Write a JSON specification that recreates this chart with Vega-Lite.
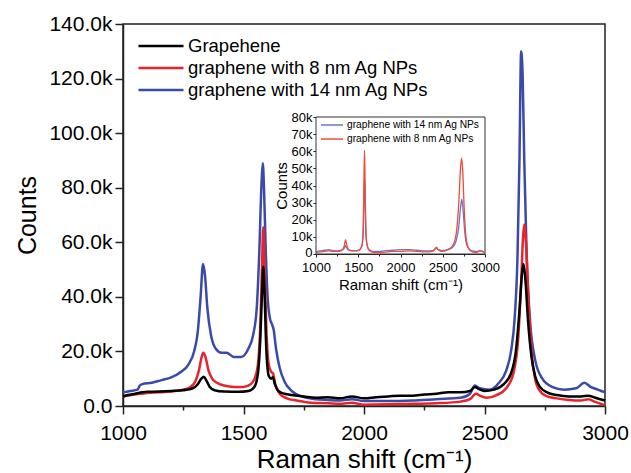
{
  "$schema": "https://vega.github.io/schema/vega-lite/v6.json",
  "width": 482,
  "height": 382,
  "autosize": {"type": "none"},
  "padding": {"left": 123, "top": 24, "right": 26, "bottom": 67},
  "background": "white",
  "config": {
    "font": "Liberation Sans",
    "view": {"stroke": "#222222", "strokeWidth": 1.5},
    "axis": {"domainColor": "#222222", "tickColor": "#222222", "labelColor": "black", "titleColor": "black", "grid": false, "labelFont": "Liberation Sans", "titleFont": "Liberation Sans", "titleFontWeight": "normal", "domainWidth": 1.5, "tickWidth": 1.5},
    "legend": {"labelFont": "Liberation Sans", "labelColor": "black", "labelLimit": 0}
  },
  "resolve": {"scale": {"x": "independent", "y": "independent", "color": "independent"}},
  "layer": [
    {
      "layer": [
        {
          "data": {"values": [
            {"x":1000,"y":5000},{"x":1030,"y":5500},{"x":1060,"y":6000},{"x":1070,"y":7500},{"x":1080,"y":8000},{"x":1120,"y":8500},{"x":1160,"y":9500},{"x":1200,"y":10500},{"x":1240,"y":12500},{"x":1270,"y":15000},{"x":1295,"y":20000},{"x":1310,"y":27000},{"x":1322,"y":40000},{"x":1332,"y":52000},{"x":1340,"y":48000},{"x":1350,"y":36000},{"x":1365,"y":26000},{"x":1385,"y":21000},{"x":1410,"y":19500},{"x":1430,"y":19500},{"x":1460,"y":18000},{"x":1490,"y":18000},{"x":1520,"y":21000},{"x":1540,"y":26000},{"x":1555,"y":36000},{"x":1565,"y":55000},{"x":1575,"y":82000},{"x":1580,"y":89000},{"x":1585,"y":80000},{"x":1592,"y":58000},{"x":1600,"y":40000},{"x":1610,"y":32000},{"x":1618,"y":30000},{"x":1625,"y":28000},{"x":1635,"y":21000},{"x":1650,"y":14000},{"x":1670,"y":9000},{"x":1700,"y":5500},{"x":1740,"y":3500},{"x":1800,"y":2500},{"x":1850,"y":2200},{"x":1900,"y":2000},{"x":1950,"y":2500},{"x":2000,"y":1800},{"x":2100,"y":1800},{"x":2200,"y":2000},{"x":2300,"y":2500},{"x":2400,"y":3000},{"x":2440,"y":4500},{"x":2460,"y":7500},{"x":2480,"y":6500},{"x":2520,"y":6000},{"x":2560,"y":8500},{"x":2590,"y":13000},{"x":2610,"y":20000},{"x":2625,"y":32000},{"x":2637,"y":55000},{"x":2645,"y":90000},{"x":2652,"y":130000},{"x":2658,"y":122000},{"x":2665,"y":90000},{"x":2675,"y":55000},{"x":2690,"y":30000},{"x":2710,"y":17000},{"x":2740,"y":10000},{"x":2780,"y":7000},{"x":2830,"y":6000},{"x":2880,"y":6500},{"x":2915,"y":8500},{"x":2940,"y":7000},{"x":2970,"y":6000},{"x":3000,"y":5000}
          ]},
          "mark": {"type": "line", "strokeWidth": 2.5, "interpolate": "monotone"},
          "encoding": {
            "x": {"field": "x", "type": "quantitative", "scale": {"domain": [1000, 3000], "nice": false, "zero": false},
              "axis": {"title": "Raman shift (cm⁻¹)", "values": [1000,1250,1500,1750,2000,2250,2500,2750,3000], "labelExpr": "datum.value % 500 === 0 ? format(datum.value, 'd') : ''", "tickSize": {"condition": {"test": "datum.value % 500 === 0", "value": 8}, "value": 4}, "labelFontSize": 21, "titleFontSize": 26, "labelPadding": 8, "titlePadding": 3, "labelFlush": false}},
            "y": {"field": "y", "type": "quantitative", "scale": {"domain": [0, 140000], "nice": false, "zero": false},
              "axis": {"title": "Counts", "values": [0,10000,20000,30000,40000,50000,60000,70000,80000,90000,100000,110000,120000,130000,140000], "labelExpr": "datum.value % 20000 === 0 ? (datum.value === 0 ? '0.0' : format(datum.value/1000, '.1f') + 'k') : ''", "tickSize": {"condition": {"test": "datum.value % 20000 === 0", "value": 8}, "value": 4}, "labelFontSize": 21, "titleFontSize": 25, "labelPadding": 3, "titlePadding": 8, "labelFlush": false}},
            "color": {"datum": "graphene with 14 nm Ag NPs", "type": "nominal",
              "scale": {"domain": ["Grapehene", "graphene with 8 nm Ag NPs", "graphene with 14 nm Ag NPs"], "range": ["#000000", "#e8232a", "#3a4aa8"]},
              "legend": {"orient": "none", "legendX": 14, "legendY": 11, "title": null, "symbolType": "stroke", "symbolSize": 2025, "symbolStrokeWidth": 2.5, "labelFontSize": 18.5, "labelLimit": 0, "clipHeight": 22, "rowPadding": 0, "labelOffset": 3, "padding": 0}}
          }
        },
        {
          "data": {"values": [
            {"x":1000,"y":3500},{"x":1050,"y":4200},{"x":1100,"y":4800},{"x":1150,"y":5000},{"x":1200,"y":5300},{"x":1250,"y":6000},{"x":1280,"y":7000},{"x":1300,"y":9000},{"x":1315,"y":13000},{"x":1325,"y":17500},{"x":1333,"y":19500},{"x":1342,"y":18000},{"x":1355,"y":13000},{"x":1370,"y":10000},{"x":1390,"y":8500},{"x":1420,"y":7500},{"x":1460,"y":7000},{"x":1500,"y":7000},{"x":1530,"y":8000},{"x":1550,"y":11000},{"x":1562,"y":17000},{"x":1570,"y":30000},{"x":1577,"y":52000},{"x":1582,"y":65500},{"x":1587,"y":52000},{"x":1595,"y":28000},{"x":1605,"y":15000},{"x":1615,"y":12500},{"x":1622,"y":12000},{"x":1632,"y":8000},{"x":1650,"y":4500},{"x":1680,"y":2800},{"x":1720,"y":2000},{"x":1780,"y":1200},{"x":1850,"y":1000},{"x":1900,"y":800},{"x":1950,"y":1200},{"x":2000,"y":500},{"x":2100,"y":600},{"x":2200,"y":800},{"x":2300,"y":1000},{"x":2400,"y":1600},{"x":2440,"y":2500},{"x":2465,"y":4500},{"x":2480,"y":3800},{"x":2510,"y":3000},{"x":2550,"y":4000},{"x":2590,"y":6500},{"x":2620,"y":12000},{"x":2640,"y":25000},{"x":2652,"y":45000},{"x":2660,"y":62000},{"x":2665,"y":66500},{"x":2672,"y":60000},{"x":2682,"y":40000},{"x":2695,"y":20000},{"x":2710,"y":10000},{"x":2730,"y":5500},{"x":2760,"y":3500},{"x":2800,"y":2800},{"x":2850,"y":2200},{"x":2900,"y":2000},{"x":2930,"y":2500},{"x":2960,"y":1500},{"x":3000,"y":300}
          ]},
          "mark": {"type": "line", "strokeWidth": 2.5, "interpolate": "monotone"},
          "encoding": {
            "x": {"field": "x", "type": "quantitative"},
            "y": {"field": "y", "type": "quantitative"},
            "color": {"datum": "graphene with 8 nm Ag NPs", "type": "nominal"}
          }
        },
        {
          "data": {"values": [
            {"x":1000,"y":3500},{"x":1020,"y":4000},{"x":1050,"y":4500},{"x":1080,"y":5000},{"x":1100,"y":5200},{"x":1150,"y":5300},{"x":1200,"y":5500},{"x":1250,"y":5800},{"x":1290,"y":6500},{"x":1310,"y":8000},{"x":1325,"y":10000},{"x":1335,"y":10700},{"x":1345,"y":9500},{"x":1360,"y":7000},{"x":1380,"y":5800},{"x":1420,"y":5300},{"x":1480,"y":5200},{"x":1520,"y":5500},{"x":1545,"y":7000},{"x":1560,"y":12000},{"x":1570,"y":25000},{"x":1577,"y":42000},{"x":1582,"y":51000},{"x":1587,"y":42000},{"x":1595,"y":20000},{"x":1605,"y":11000},{"x":1615,"y":10000},{"x":1622,"y":10500},{"x":1630,"y":8000},{"x":1645,"y":5500},{"x":1670,"y":4500},{"x":1700,"y":4000},{"x":1750,"y":3500},{"x":1800,"y":3000},{"x":1850,"y":3200},{"x":1900,"y":2800},{"x":1950,"y":3500},{"x":2000,"y":2800},{"x":2050,"y":3200},{"x":2100,"y":3500},{"x":2150,"y":3800},{"x":2200,"y":3800},{"x":2250,"y":4200},{"x":2300,"y":4500},{"x":2350,"y":5000},{"x":2400,"y":5000},{"x":2440,"y":5500},{"x":2460,"y":7000},{"x":2475,"y":6300},{"x":2500,"y":5500},{"x":2540,"y":6000},{"x":2580,"y":8000},{"x":2610,"y":12000},{"x":2630,"y":20000},{"x":2645,"y":35000},{"x":2655,"y":48000},{"x":2662,"y":52000},{"x":2670,"y":46000},{"x":2680,"y":32000},{"x":2695,"y":18000},{"x":2710,"y":11000},{"x":2730,"y":7000},{"x":2760,"y":5000},{"x":2800,"y":4000},{"x":2850,"y":3500},{"x":2900,"y":3500},{"x":2930,"y":3800},{"x":2960,"y":3000},{"x":3000,"y":2000}
          ]},
          "mark": {"type": "line", "strokeWidth": 2.5, "interpolate": "monotone"},
          "encoding": {
            "x": {"field": "x", "type": "quantitative"},
            "y": {"field": "y", "type": "quantitative"},
            "color": {"datum": "Grapehene", "type": "nominal"}
          }
        }
      ]
    },
    {
      "layer": [
        {
          "data": {"values": [{"x0": 1000, "x1": 3000, "y0": 0, "y1": 80000}]},
          "mark": {"type": "rect", "fill": "white", "stroke": "#333333", "strokeWidth": 1},
          "encoding": {
            "x": {"field": "x0", "type": "quantitative", "scale": {"domain": [1000, 3000], "nice": false, "zero": false, "range": [193, 362]}},
            "x2": {"field": "x1"},
            "y": {"field": "y0", "type": "quantitative", "scale": {"domain": [0, 80000], "nice": false, "zero": false, "range": [230, 93]}},
            "y2": {"field": "y1"}
          }
        },
        {
          "data": {"values": [
            {"x":1000,"y":1500},{"x":1050,"y":1800},{"x":1100,"y":2200},{"x":1150,"y":2500},{"x":1200,"y":2000},{"x":1250,"y":1800},{"x":1300,"y":2200},{"x":1330,"y":3000},{"x":1345,"y":4500},{"x":1352,"y":5000},{"x":1360,"y":4000},{"x":1380,"y":2500},{"x":1420,"y":2000},{"x":1480,"y":2000},{"x":1520,"y":2800},{"x":1545,"y":5000},{"x":1560,"y":15000},{"x":1568,"y":35000},{"x":1574,"y":44500},{"x":1580,"y":35000},{"x":1590,"y":12000},{"x":1605,"y":5000},{"x":1630,"y":2500},{"x":1680,"y":1500},{"x":1750,"y":1500},{"x":1800,"y":1800},{"x":1900,"y":2200},{"x":2000,"y":2500},{"x":2100,"y":2500},{"x":2200,"y":2200},{"x":2300,"y":1800},{"x":2380,"y":2000},{"x":2410,"y":3000},{"x":2425,"y":3500},{"x":2445,"y":2500},{"x":2500,"y":2000},{"x":2560,"y":2500},{"x":2620,"y":4000},{"x":2660,"y":8000},{"x":2690,"y":16000},{"x":2710,"y":27000},{"x":2725,"y":32000},{"x":2740,"y":26000},{"x":2760,"y":13000},{"x":2780,"y":6000},{"x":2810,"y":3000},{"x":2850,"y":1800},{"x":2900,"y":1500},{"x":2940,"y":2000},{"x":2970,"y":1500},{"x":3000,"y":800}
          ]},
          "mark": {"type": "line", "strokeWidth": 1.3, "interpolate": "monotone"},
          "encoding": {
            "x": {"field": "x", "type": "quantitative", "scale": {"domain": [1000, 3000], "nice": false, "zero": false, "range": [193, 362]},
              "axis": {"title": "Raman shift (cm⁻¹)", "orient": "bottom", "offset": -152, "values": [1000,1250,1500,1750,2000,2250,2500,2750,3000], "labelExpr": "datum.value % 500 === 0 ? format(datum.value, 'd') : ''", "tickSize": {"condition": {"test": "datum.value % 500 === 0", "value": 3}, "value": 2}, "labelFontSize": 13, "titleFontSize": 15, "labelPadding": 4, "titlePadding": 3, "domainWidth": 1, "tickWidth": 1, "labelFlush": false}},
            "y": {"field": "y", "type": "quantitative", "scale": {"domain": [0, 80000], "nice": false, "zero": false, "range": [230, 93]},
              "axis": {"title": "Counts", "orient": "left", "offset": -193, "values": [0,10000,20000,30000,40000,50000,60000,70000,80000], "labelExpr": "datum.value === 0 ? '0' : format(datum.value/1000, 'd') + 'k'", "labelOffset": {"condition": {"test": "datum.value === 0", "value": -2}, "value": 0}, "tickSize": 3, "labelFontSize": 13, "titleFontSize": 15, "labelPadding": 1, "titlePadding": 2, "domainWidth": 1, "tickWidth": 1, "labelFlush": false}},
            "color": {"datum": "graphene with 14 nm Ag NPs", "type": "nominal",
              "scale": {"domain": ["graphene with 14 nm Ag NPs", "graphene with 8 nm Ag NPs"], "range": ["#6676d0", "#f04a38"]},
              "legend": {"orient": "none", "legendX": 197, "legendY": 94, "title": null, "symbolType": "stroke", "symbolSize": 484, "symbolStrokeWidth": 1.5, "labelFontSize": 10.2, "labelLimit": 0, "clipHeight": 14, "rowPadding": 0, "labelOffset": 3, "padding": 0}}
          }
        },
        {
          "data": {"values": [
            {"x":1000,"y":1000},{"x":1050,"y":1200},{"x":1100,"y":1500},{"x":1150,"y":1800},{"x":1200,"y":1500},{"x":1250,"y":1500},{"x":1300,"y":2000},{"x":1330,"y":4000},{"x":1345,"y":7500},{"x":1352,"y":8200},{"x":1360,"y":6000},{"x":1380,"y":3000},{"x":1420,"y":1800},{"x":1480,"y":1800},{"x":1520,"y":2500},{"x":1545,"y":5000},{"x":1560,"y":18000},{"x":1568,"y":45000},{"x":1574,"y":60500},{"x":1580,"y":45000},{"x":1590,"y":15000},{"x":1605,"y":5000},{"x":1630,"y":2000},{"x":1680,"y":1000},{"x":1750,"y":1000},{"x":1800,"y":1000},{"x":1900,"y":1500},{"x":2000,"y":1500},{"x":2100,"y":1800},{"x":2200,"y":1500},{"x":2300,"y":1200},{"x":2380,"y":1500},{"x":2410,"y":3000},{"x":2425,"y":4000},{"x":2445,"y":2500},{"x":2500,"y":1500},{"x":2560,"y":2500},{"x":2620,"y":5000},{"x":2660,"y":12000},{"x":2690,"y":30000},{"x":2710,"y":50000},{"x":2722,"y":56000},{"x":2735,"y":50000},{"x":2755,"y":25000},{"x":2780,"y":8000},{"x":2810,"y":3000},{"x":2850,"y":1200},{"x":2900,"y":800},{"x":2940,"y":1800},{"x":2970,"y":1500},{"x":3000,"y":500}
          ]},
          "mark": {"type": "line", "strokeWidth": 1.3, "interpolate": "monotone"},
          "encoding": {
            "x": {"field": "x", "type": "quantitative"},
            "y": {"field": "y", "type": "quantitative"},
            "color": {"datum": "graphene with 8 nm Ag NPs", "type": "nominal"}
          }
        }
      ]
    }
  ]
}
